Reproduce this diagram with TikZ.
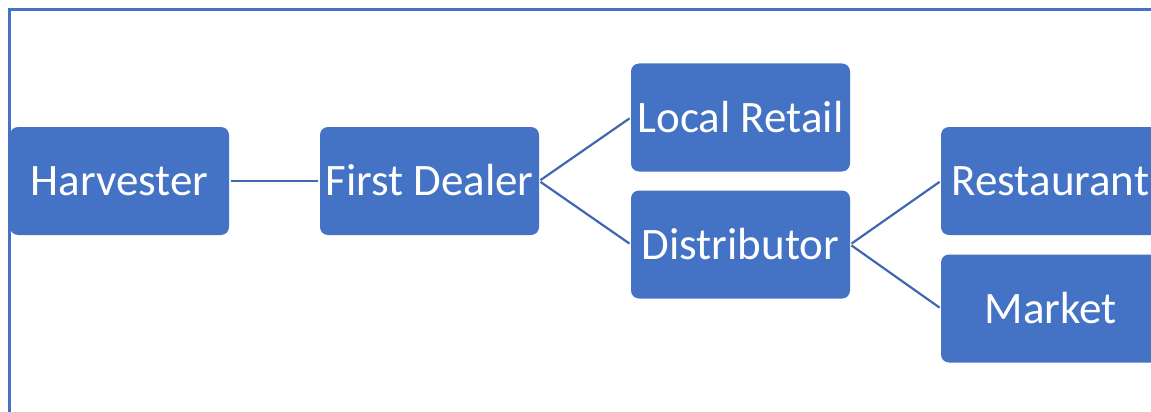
\documentclass[tikz,border=0pt]{standalone}
\usepackage{fontspec}
\setmainfont{Carlito}
\definecolor{boxblue}{HTML}{4472C4}
\definecolor{lineblue}{HTML}{3F67B2}
\tikzset{
  stage/.style={rectangle, rounded corners=8pt, fill=boxblue, text=white,
    minimum width=219pt, minimum height=108pt, inner sep=0pt,
    font=\fontsize{45}{49}\selectfont, text height=29.5pt, text depth=0pt},
  link/.style={draw=lineblue, line width=2.2pt, shorten <=1.5pt, shorten >=1.5pt},
}
\begin{document}
\begin{tikzpicture}[x=1pt, y=-1pt]
  \useasboundingbox (0,0) rectangle (1151,412);
  % outer frame, open at right and bottom
  \draw[boxblue, line width=2.4pt] (9.5,420) -- (9.5,9.5) -- (1160,9.5);

  \node[stage] (harv)   at (119.5,181)  {Harvester};
  \node[stage] (dealer) at (429.5,181)  {First Dealer};
  \node[stage] (retail) at (740.5,117.5){Local Retail};
  \node[stage] (dist)   at (740.5,244.5){Distributor};
  \node[stage] (rest)   at (1050.5,181) {Restaurant};
  \node[stage] (market) at (1050.5,308.5){Market};

  \draw[link] (harv.east) -- (dealer.west);
  \draw[link] (dealer.east) -- (retail.west);
  \draw[link] (dealer.east) -- (dist.west);
  \draw[link] (dist.east) -- (rest.west);
  \draw[link] (dist.east) -- (market.west);
\end{tikzpicture}
\end{document}
